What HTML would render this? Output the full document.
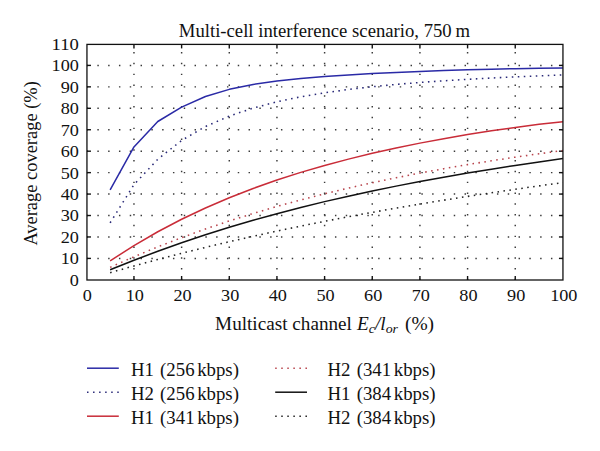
<!DOCTYPE html>
<html><head><meta charset="utf-8"><style>
html,body{margin:0;padding:0;background:#fff;}
body{width:600px;height:451px;overflow:hidden;}
svg{display:block;}
text{font-family:"Liberation Serif",serif;fill:#111;}
.tl{font-size:18px;}
.tk{font-size:17.4px;}
.ti{font-size:18.6px;}
.yl{font-size:18.4px;}
.g{stroke:#3a3a3a;stroke-width:1.45;stroke-dasharray:1.45 9.35;fill:none;}
.gv{stroke-dashoffset:0.3;}
.gh{stroke-dashoffset:0.4;}
.t{stroke:#111;stroke-width:1.4;}
.box{fill:none;stroke:#111;stroke-width:1.3;}
.cs{fill:none;stroke-width:1.5;stroke-linejoin:round;}
.cd{fill:none;stroke-width:1.55;stroke-dasharray:1.55 4.45;}
.ls{stroke-width:1.5;}
.ld{stroke-width:1.5;stroke-dasharray:1.5 4.55;}
</style></head><body>
<svg width="600" height="451" viewBox="0 0 600 451">
<line x1="133.96" y1="280.00" x2="133.96" y2="44.40" class="g gv"/>
<line x1="181.62" y1="280.00" x2="181.62" y2="44.40" class="g gv"/>
<line x1="229.28" y1="280.00" x2="229.28" y2="44.40" class="g gv"/>
<line x1="276.94" y1="280.00" x2="276.94" y2="44.40" class="g gv"/>
<line x1="324.60" y1="280.00" x2="324.60" y2="44.40" class="g gv"/>
<line x1="372.26" y1="280.00" x2="372.26" y2="44.40" class="g gv"/>
<line x1="419.92" y1="280.00" x2="419.92" y2="44.40" class="g gv"/>
<line x1="467.58" y1="280.00" x2="467.58" y2="44.40" class="g gv"/>
<line x1="515.24" y1="280.00" x2="515.24" y2="44.40" class="g gv"/>
<line x1="86.95" y1="258.41" x2="562.95" y2="258.41" class="g gh"/>
<line x1="86.95" y1="236.96" x2="562.95" y2="236.96" class="g gh"/>
<line x1="86.95" y1="215.52" x2="562.95" y2="215.52" class="g gh"/>
<line x1="86.95" y1="194.07" x2="562.95" y2="194.07" class="g gh"/>
<line x1="86.95" y1="172.63" x2="562.95" y2="172.63" class="g gh"/>
<line x1="86.95" y1="151.19" x2="562.95" y2="151.19" class="g gh"/>
<line x1="86.95" y1="129.74" x2="562.95" y2="129.74" class="g gh"/>
<line x1="86.95" y1="108.30" x2="562.95" y2="108.30" class="g gh"/>
<line x1="86.95" y1="86.85" x2="562.95" y2="86.85" class="g gh"/>
<line x1="86.95" y1="65.41" x2="562.95" y2="65.41" class="g gh"/>
<line x1="133.96" y1="280.00" x2="133.96" y2="276.00" class="t"/>
<line x1="133.96" y1="44.40" x2="133.96" y2="48.40" class="t"/>
<line x1="181.62" y1="280.00" x2="181.62" y2="276.00" class="t"/>
<line x1="181.62" y1="44.40" x2="181.62" y2="48.40" class="t"/>
<line x1="229.28" y1="280.00" x2="229.28" y2="276.00" class="t"/>
<line x1="229.28" y1="44.40" x2="229.28" y2="48.40" class="t"/>
<line x1="276.94" y1="280.00" x2="276.94" y2="276.00" class="t"/>
<line x1="276.94" y1="44.40" x2="276.94" y2="48.40" class="t"/>
<line x1="324.60" y1="280.00" x2="324.60" y2="276.00" class="t"/>
<line x1="324.60" y1="44.40" x2="324.60" y2="48.40" class="t"/>
<line x1="372.26" y1="280.00" x2="372.26" y2="276.00" class="t"/>
<line x1="372.26" y1="44.40" x2="372.26" y2="48.40" class="t"/>
<line x1="419.92" y1="280.00" x2="419.92" y2="276.00" class="t"/>
<line x1="419.92" y1="44.40" x2="419.92" y2="48.40" class="t"/>
<line x1="467.58" y1="280.00" x2="467.58" y2="276.00" class="t"/>
<line x1="467.58" y1="44.40" x2="467.58" y2="48.40" class="t"/>
<line x1="515.24" y1="280.00" x2="515.24" y2="276.00" class="t"/>
<line x1="515.24" y1="44.40" x2="515.24" y2="48.40" class="t"/>
<line x1="86.95" y1="258.41" x2="90.95" y2="258.41" class="t"/>
<line x1="562.95" y1="258.41" x2="558.95" y2="258.41" class="t"/>
<line x1="86.95" y1="236.96" x2="90.95" y2="236.96" class="t"/>
<line x1="562.95" y1="236.96" x2="558.95" y2="236.96" class="t"/>
<line x1="86.95" y1="215.52" x2="90.95" y2="215.52" class="t"/>
<line x1="562.95" y1="215.52" x2="558.95" y2="215.52" class="t"/>
<line x1="86.95" y1="194.07" x2="90.95" y2="194.07" class="t"/>
<line x1="562.95" y1="194.07" x2="558.95" y2="194.07" class="t"/>
<line x1="86.95" y1="172.63" x2="90.95" y2="172.63" class="t"/>
<line x1="562.95" y1="172.63" x2="558.95" y2="172.63" class="t"/>
<line x1="86.95" y1="151.19" x2="90.95" y2="151.19" class="t"/>
<line x1="562.95" y1="151.19" x2="558.95" y2="151.19" class="t"/>
<line x1="86.95" y1="129.74" x2="90.95" y2="129.74" class="t"/>
<line x1="562.95" y1="129.74" x2="558.95" y2="129.74" class="t"/>
<line x1="86.95" y1="108.30" x2="90.95" y2="108.30" class="t"/>
<line x1="562.95" y1="108.30" x2="558.95" y2="108.30" class="t"/>
<line x1="86.95" y1="86.85" x2="90.95" y2="86.85" class="t"/>
<line x1="562.95" y1="86.85" x2="558.95" y2="86.85" class="t"/>
<line x1="86.95" y1="65.41" x2="90.95" y2="65.41" class="t"/>
<line x1="562.95" y1="65.41" x2="558.95" y2="65.41" class="t"/>
<polyline points="110.13,189.79 133.96,146.90 157.79,121.50 181.62,107.11 205.45,96.52 229.28,89.35 253.11,84.46 276.94,81.01 300.77,78.47 324.60,76.50 348.43,74.92 372.26,73.59 396.09,72.44 419.92,71.44 443.75,70.57 467.58,69.82 491.41,69.19 515.24,68.67 539.07,68.28 562.90,68.02" class="cs" stroke="#2a2aa6"/>
<polyline points="110.13,222.81 133.96,184.69 157.79,159.27 181.62,140.42 205.45,126.54 229.28,116.11 253.11,108.10 276.94,101.83 300.77,96.83 324.60,92.79 348.43,89.47 372.26,86.73 396.09,84.42 419.92,82.46 443.75,80.78 467.58,79.32 491.41,78.03 515.24,76.90 539.07,75.87 562.90,74.94" class="cd" stroke="#2a2a78"/>
<polyline points="110.13,260.86 133.96,245.58 157.79,231.76 181.62,219.26 205.45,207.95 229.28,197.72 253.11,188.45 276.94,180.04 300.77,172.40 324.60,165.44 348.43,159.10 372.26,153.29 396.09,147.98 419.92,143.11 443.75,138.64 467.58,134.54 491.41,130.80 515.24,127.40 539.07,124.35 562.90,121.65" class="cs" stroke="#c92c38"/>
<polyline points="110.13,267.34 133.96,256.76 157.79,246.87 181.62,237.64 205.45,229.02 229.28,220.97 253.11,213.46 276.94,206.45 300.77,199.90 324.60,193.79 348.43,188.08 372.26,182.75 396.09,177.76 419.92,173.09 443.75,168.72 467.58,164.62 491.41,160.77 515.24,157.15 539.07,153.74 562.90,150.53" class="cd" stroke="#b8444c"/>
<polyline points="110.13,269.82 133.96,260.26 157.79,251.25 181.62,242.78 205.45,234.82 229.28,227.33 253.11,220.30 276.94,213.69 300.77,207.47 324.60,201.64 348.43,196.15 372.26,190.98 396.09,186.12 419.92,181.53 443.75,177.19 467.58,173.08 491.41,169.18 515.24,165.46 539.07,161.90 562.90,158.48" class="cs" stroke="#111"/>
<polyline points="110.13,272.67 133.96,265.94 157.79,259.49 181.62,253.30 205.45,247.38 229.28,241.71 253.11,236.27 276.94,231.07 300.77,226.08 324.60,221.31 348.43,216.73 372.26,212.34 396.09,208.12 419.92,204.07 443.75,200.17 467.58,196.41 491.41,192.79 515.24,189.28 539.07,185.88 562.90,182.58" class="cd" stroke="#222"/>
<rect x="86.95" y="44.40" width="476.00" height="235.60" class="box"/>
<text x="78.9" y="285.75" text-anchor="end" class="tk" textLength="9.1" lengthAdjust="spacingAndGlyphs">0</text>
<text x="78.9" y="264.31" text-anchor="end" class="tk" textLength="18.2" lengthAdjust="spacingAndGlyphs">10</text>
<text x="78.9" y="242.86" text-anchor="end" class="tk" textLength="18.2" lengthAdjust="spacingAndGlyphs">20</text>
<text x="78.9" y="221.42" text-anchor="end" class="tk" textLength="18.2" lengthAdjust="spacingAndGlyphs">30</text>
<text x="78.9" y="199.97" text-anchor="end" class="tk" textLength="18.2" lengthAdjust="spacingAndGlyphs">40</text>
<text x="78.9" y="178.53" text-anchor="end" class="tk" textLength="18.2" lengthAdjust="spacingAndGlyphs">50</text>
<text x="78.9" y="157.09" text-anchor="end" class="tk" textLength="18.2" lengthAdjust="spacingAndGlyphs">60</text>
<text x="78.9" y="135.64" text-anchor="end" class="tk" textLength="18.2" lengthAdjust="spacingAndGlyphs">70</text>
<text x="78.9" y="114.20" text-anchor="end" class="tk" textLength="18.2" lengthAdjust="spacingAndGlyphs">80</text>
<text x="78.9" y="92.75" text-anchor="end" class="tk" textLength="18.2" lengthAdjust="spacingAndGlyphs">90</text>
<text x="78.9" y="71.31" text-anchor="end" class="tk" textLength="27.3" lengthAdjust="spacingAndGlyphs">100</text>
<text x="78.9" y="49.87" text-anchor="end" class="tk" textLength="27.3" lengthAdjust="spacingAndGlyphs">110</text>
<text x="87.20" y="301.3" text-anchor="middle" class="tk" textLength="9.1" lengthAdjust="spacingAndGlyphs">0</text>
<text x="134.86" y="301.3" text-anchor="middle" class="tk" textLength="18.2" lengthAdjust="spacingAndGlyphs">10</text>
<text x="182.52" y="301.3" text-anchor="middle" class="tk" textLength="18.2" lengthAdjust="spacingAndGlyphs">20</text>
<text x="230.18" y="301.3" text-anchor="middle" class="tk" textLength="18.2" lengthAdjust="spacingAndGlyphs">30</text>
<text x="277.84" y="301.3" text-anchor="middle" class="tk" textLength="18.2" lengthAdjust="spacingAndGlyphs">40</text>
<text x="325.50" y="301.3" text-anchor="middle" class="tk" textLength="18.2" lengthAdjust="spacingAndGlyphs">50</text>
<text x="373.16" y="301.3" text-anchor="middle" class="tk" textLength="18.2" lengthAdjust="spacingAndGlyphs">60</text>
<text x="420.82" y="301.3" text-anchor="middle" class="tk" textLength="18.2" lengthAdjust="spacingAndGlyphs">70</text>
<text x="468.48" y="301.3" text-anchor="middle" class="tk" textLength="18.2" lengthAdjust="spacingAndGlyphs">80</text>
<text x="516.14" y="301.3" text-anchor="middle" class="tk" textLength="18.2" lengthAdjust="spacingAndGlyphs">90</text>
<text x="563.80" y="301.3" text-anchor="middle" class="tk" textLength="27.3" lengthAdjust="spacingAndGlyphs">100</text>
<text x="178.80" y="36.5" class="ti" textLength="291.20" lengthAdjust="spacingAndGlyphs">Multi-cell interference scenario, 750 m</text>
<text x="215.10" y="330.2" class="tl" textLength="136.80" lengthAdjust="spacingAndGlyphs">Multicast channel</text>
<text x="357.00" y="330.0" class="tl" font-style="italic" textLength="41.00" lengthAdjust="spacingAndGlyphs">E<tspan font-size="13" dy="2.6">c</tspan><tspan dy="-2.6">/l</tspan><tspan font-size="13" dy="2.6">or</tspan></text>
<text x="404.90" y="330.2" class="tl" textLength="29.20" lengthAdjust="spacingAndGlyphs">(%)</text>
<text transform="translate(36.6,245.60) rotate(-90)" x="0" y="0" class="yl" textLength="164.40" lengthAdjust="spacingAndGlyphs">Average coverage (%)</text>
<line x1="87" y1="368.20" x2="118.8" y2="368.20" class="ls" stroke="#2a2aa6"/>
<text x="130.90" y="375.60" class="tl" textLength="108.00" lengthAdjust="spacingAndGlyphs">H1<tspan dx="1.5"> </tspan>(256<tspan dx="1"> </tspan>kbps)</text>
<line x1="87" y1="392.20" x2="118.8" y2="392.20" class="ld" stroke="#2a2a78"/>
<text x="130.90" y="399.60" class="tl" textLength="108.00" lengthAdjust="spacingAndGlyphs">H2<tspan dx="1.5"> </tspan>(256<tspan dx="1"> </tspan>kbps)</text>
<line x1="87" y1="416.20" x2="118.8" y2="416.20" class="ls" stroke="#c92c38"/>
<text x="130.90" y="423.60" class="tl" textLength="108.00" lengthAdjust="spacingAndGlyphs">H1<tspan dx="1.5"> </tspan>(341<tspan dx="1"> </tspan>kbps)</text>
<line x1="275.2" y1="368.20" x2="307.0" y2="368.20" class="ld" stroke="#b8444c"/>
<text x="327.40" y="375.60" class="tl" textLength="108.20" lengthAdjust="spacingAndGlyphs">H2<tspan dx="1.5"> </tspan>(341<tspan dx="1"> </tspan>kbps)</text>
<line x1="275.2" y1="392.20" x2="307.0" y2="392.20" class="ls" stroke="#111"/>
<text x="327.40" y="399.60" class="tl" textLength="108.20" lengthAdjust="spacingAndGlyphs">H1<tspan dx="1.5"> </tspan>(384<tspan dx="1"> </tspan>kbps)</text>
<line x1="275.2" y1="416.20" x2="307.0" y2="416.20" class="ld" stroke="#222"/>
<text x="327.40" y="423.60" class="tl" textLength="108.20" lengthAdjust="spacingAndGlyphs">H2<tspan dx="1.5"> </tspan>(384<tspan dx="1"> </tspan>kbps)</text>
</svg>
</body></html>
